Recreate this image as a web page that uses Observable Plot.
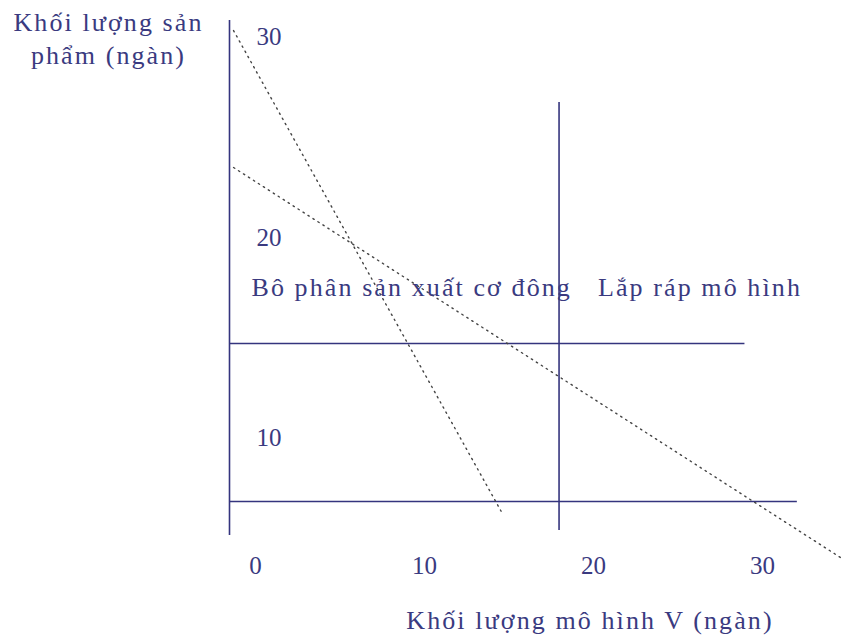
<!DOCTYPE html>
<html>
<head>
<meta charset="utf-8">
<script src="https://cdn.jsdelivr.net/npm/d3@7"></script>
<script src="https://cdn.jsdelivr.net/npm/@observablehq/plot@0.6"></script>
<style>
  html, body { margin: 0; padding: 0; background: #fff; }
  g[aria-label="x-axis tick label"], g[aria-label="y-axis tick label"] { letter-spacing: 0; }
</style>
</head>
<body>
<div id="chart"></div>
<script>
// Tick labels
const xTicks = [0, 10, 20, 30];
const yTicks = [10, 20, 30];

// Axis extent (thousands of products)
const yAxisRange = [5.14, 30.82];

// Dotted constraint lines (x = model V thousand, y = product thousand)
const machiningLine = [{x: 0.24, y: 30.32}, {x: 16.15, y: 6.23}];
const assemblyLine = [{x: 0.24, y: 23.49}, {x: 36.15, y: 4.04}];

// Solid division lines
const hLines = [
  {y: 14.71, x1: 0, x2: 30.5},
  {y: 6.83, x1: 0, x2: 33.6}
];
const vLines = [{x: 19.5, y1: 5.39, y2: 26.73}];

// Text
const yTitle = "Khối lượng sản\nphẩm (ngàn)";
const xTitle = "Khối lượng mô hình V (ngàn)";
const regionLabels = [
  {label: "Bô phân sản xuất cơ đông", x: 1.3, y: 17.51},
  {label: "Lắp ráp mô hình", x: 21.8, y: 17.51}
];

const navy = "#34347e";
const textColor = "#3a3a80";

const chart = Plot.plot({
  width: 841,
  height: 637,
  marginLeft: 281,
  marginBottom: 81,
  marginTop: 0,
  marginRight: 0,
  style: {
    fontFamily: "'Liberation Serif', 'Times New Roman', serif",
    fontSize: "26px",
    color: textColor,
    background: "#fff",
    letterSpacing: "2.1px"
  },
  x: {domain: [0, 36], range: [229, 229 + 36 * 16.9]},
  y: {domain: [0, 30], range: [638, 36.5]},
  marks: [
    Plot.axisX({ticks: xTicks, tickSize: 0, tickPadding: 0, dx: 26, label: null, fontSize: 25}),
    Plot.axisY({ticks: yTicks, tickSize: 0, tickPadding: 0, label: null, fontSize: 25}),
    // y axis line
    Plot.ruleX([0], {y1: yAxisRange[0], y2: yAxisRange[1], stroke: navy, strokeWidth: 1.6}),
    Plot.ruleY(hLines, {y: "y", x1: "x1", x2: "x2", stroke: navy, strokeWidth: 1.6}),
    Plot.ruleX(vLines, {x: "x", y1: "y1", y2: "y2", stroke: navy, strokeWidth: 1.6}),
    Plot.line(machiningLine, {x: "x", y: "y", stroke: "#444", strokeWidth: 1.4, strokeDasharray: "1.4,4.5"}),
    Plot.line(assemblyLine, {x: "x", y: "y", stroke: "#444", strokeWidth: 1.4, strokeDasharray: "1.4,4.5"}),
    Plot.text(regionLabels, {x: "x", y: "y", text: "label", textAnchor: "start", fill: textColor, fontSize: 26}),
    Plot.text([yTitle], {x: -7.16, y: 30.0, text: d => d, textAnchor: "middle", lineHeight: 1.25, fill: textColor, fontSize: 26}),
    Plot.text([xTitle], {x: 21.33, y: 0.9, text: d => d, textAnchor: "middle", fill: textColor, fontSize: 26})
  ]
});
document.getElementById("chart").append(chart);
</script>
</body>
</html>
